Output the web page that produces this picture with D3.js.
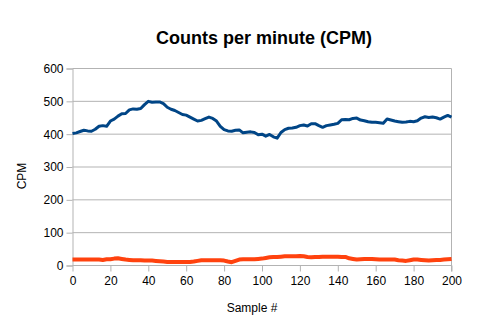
<!DOCTYPE html>
<html><head><meta charset="utf-8">
<script src="https://cdn.jsdelivr.net/npm/d3@7/dist/d3.min.js"></script>
<style>body{margin:0;background:#fff}svg{display:block;font-family:"Liberation Sans",Arial,sans-serif}</style>
</head><body>
<svg id="c" width="485" height="329"></svg>
<script>
const title = "Counts per minute (CPM)";
const xLabel = "Sample #";
const yLabel = "CPM";
const xTicks = [0,20,40,60,80,100,120,140,160,180,200];
const yTicks = [0,100,200,300,400,500,600];
const samples = d3.range(0, 201, 2);
const cpmA = [402,404,408,412,410,409,415,424,426,424,440,446,455,462,463,474,477,476,478,490,
  500,497,498,498,493,482,476,472,466,460,458,452,446,440,442,447,452,448,440,424,
  414,410,409,412,413,404,406,407,405,398,400,394,399,392,388,405,414,418,419,421,
  426,428,425,432,432,426,421,426,428,430,433,444,445,444,448,449,443,441,438,436,
  436,435,433,446,443,440,438,436,437,439,438,441,449,453,451,452,450,446,452,457,452];
const cpmB = [18,18,18,18,18,18,18,18,17,19,19,21,22,20,18,17,16,16,16,15,
  15,15,14,13,12,11,11,11,11,11,11,11,12,14,16,16,16,16,16,16,
  15,12,10,14,18,19,19,19,19,20,21,23,25,26,26,27,28,28,28,28,
  29,28,26,25,26,26,27,27,27,27,27,26,26,22,20,18,19,20,20,20,
  19,18,18,18,18,18,16,15,14,16,18,18,17,16,15,16,17,17,18,19,20];
const colors = ["#004586", "#ff420e"];

const svg = d3.select("#c");
const L = 72.5, R = 451.5, T = 68.5, B = 265.5;
const x = d3.scaleLinear().domain([0,200]).range([L,R]);
const y = d3.scaleLinear().domain([0,600]).range([B,T]);
const grid = "#b3b3b3";

// gridlines
svg.append("g").selectAll("line").data(yTicks.filter(v=>v>0)).join("line")
  .attr("x1",L).attr("x2",R).attr("y1",d=>y(d)).attr("y2",d=>y(d))
  .attr("stroke",grid).attr("stroke-width",1);
// right border
svg.append("line").attr("x1",R).attr("x2",R).attr("y1",T).attr("y2",B+6).attr("stroke",grid);

const yAxis = d3.axisLeft(y).tickValues(yTicks).tickSize(6).tickPadding(3);
const gy = svg.append("g").attr("transform",`translate(${L},0)`).call(yAxis);
const xAxis = d3.axisBottom(x).tickValues(xTicks).tickSize(6).tickPadding(5);
const gx = svg.append("g").attr("transform",`translate(0,${B})`).call(xAxis);
[gy,gx].forEach(g=>{
  g.select(".domain").attr("stroke",grid);
  g.selectAll(".tick line").attr("stroke",grid);
  g.selectAll("text").attr("font-size",12).attr("fill","#000").attr("font-family","Liberation Sans, Arial, sans-serif");
});
gx.select(".domain").remove();
svg.append("line").attr("x1",L).attr("x2",R).attr("y1",B).attr("y2",B).attr("stroke",grid);

const line = d3.line().x((d,i)=>x(samples[i])).y(d=>y(d));
svg.append("path").datum(cpmB).attr("d",line).attr("fill","none")
  .attr("stroke",colors[1]).attr("stroke-width",4).attr("stroke-linejoin","round");
svg.append("path").datum(cpmA).attr("d",line).attr("fill","none")
  .attr("stroke",colors[0]).attr("stroke-width",3).attr("stroke-linejoin","round");

svg.append("text").attr("x",264).attr("y",44).attr("text-anchor","middle")
  .attr("font-size",18).attr("font-weight","bold").text(title);
svg.append("text").attr("x",252).attr("y",312).attr("text-anchor","middle")
  .attr("font-size",12).text(xLabel);
svg.append("text").attr("transform","translate(26,176) rotate(-90)").attr("text-anchor","middle")
  .attr("font-size",12).text(yLabel);
</script>
</body></html>
